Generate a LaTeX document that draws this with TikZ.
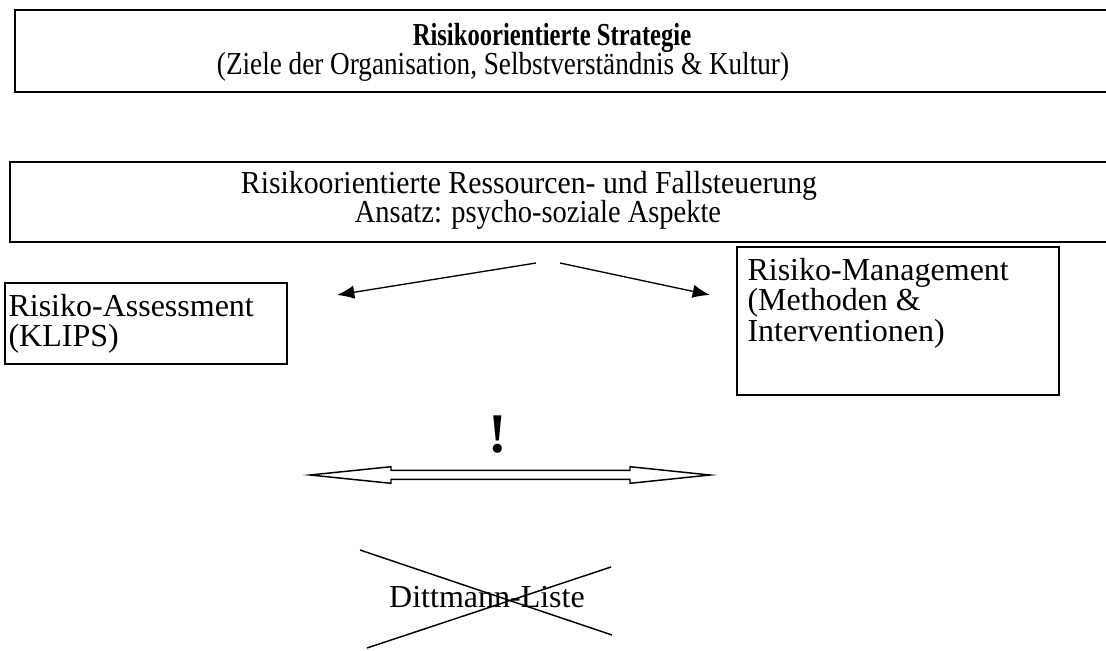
\documentclass[tikz,border=0pt]{standalone}
\usepackage{fontspec}
\setmainfont{Liberation Serif}
\usetikzlibrary{arrows.meta}
\newcommand{\narrow}[2]{\scalebox{#1}[1]{#2}}
\begin{document}
\begin{tikzpicture}[x=0.375pt,y=-0.375pt,
  frame/.style={draw, line width=0.75pt, inner sep=0pt, anchor=north west},
  txt/.style={font=\fontsize{12}{11.3}\selectfont, inner sep=0pt},
  line/.style={txt, anchor=base},
  pointer/.style={line width=0.5pt, -{Latex[length=6.5pt,width=5pt]}},
  hollow/.style={draw, line width=0.55pt, fill=white, line join=miter},
  strike/.style={line width=0.55pt}]
\useasboundingbox (0,0) rectangle (1106,650);

% strategy banner (runs off the right edge)
\node[frame, minimum width=416.6pt, minimum height=30.75pt] (strategy) at (14,9) {};
\node[line] (strategytitle) at (552,45)
  {\narrow{0.77}{\textbf{Risikoorientierte Strategie}}};
\node[line] (strategysub) at (503,74)
  {\narrow{0.85}{(Ziele der Organisation, Selbstverständnis \& Kultur)}};

% resource and case steering banner
\node[frame, minimum width=418.5pt, minimum height=30pt] (steering) at (9,161) {};
\node[line] (steeringtitle) at (529,193)
  {\narrow{0.93}{Risikoorientierte Ressourcen- und Fallsteuerung}};
\node[line] (steeringsub) at (538,222)
  {\narrow{0.89}{Ansatz: psycho-soziale Aspekte}};

% assessment and management boxes
\node[frame, minimum width=105.75pt, minimum height=30.375pt] (assess) at (4,282) {};
\node[txt, align=left, anchor=north west] (assesstxt) at (8,294)
  {Risiko-Assessment\\(KLIPS)};
\node[frame, minimum width=120.75pt, minimum height=55.5pt] (manage) at (736,246) {};
\node[txt, align=left, anchor=north west] (managetxt) at (747,258)
  {Risiko-Management\\(Methoden \&\\Interventionen)};

% split arrows
\coordinate (fromL) at (536,263);
\coordinate (toL) at (337,295);
\coordinate (fromR) at (560,263);
\coordinate (toR) at (710,295);
\draw[pointer] (fromL) -- (toL);
\draw[pointer] (fromR) -- (toR);

% exclamation mark and hollow double arrow
\node[inner sep=0pt, anchor=base, font=\fontsize{21}{24}\selectfont\bfseries] (bang) at (498,452) {!};
\draw[hollow] (310,475) -- (391,466.7) -- (391,470.4) -- (630,470.4) -- (630,466.7)
  -- (710,475) -- (630,483.3) -- (630,479.4) -- (391,479.4) -- (391,483.3) -- cycle;

% crossed-out list
\node[txt, anchor=base] (dittmann) at (487,607) {Dittmann-Liste};
\coordinate (xa) at (360,550);
\coordinate (xb) at (612,635);
\coordinate (xc) at (367,648);
\coordinate (xd) at (611,567);
\draw[strike] (xa) -- (xb);
\draw[strike] (xc) -- (xd);
\end{tikzpicture}
\end{document}
